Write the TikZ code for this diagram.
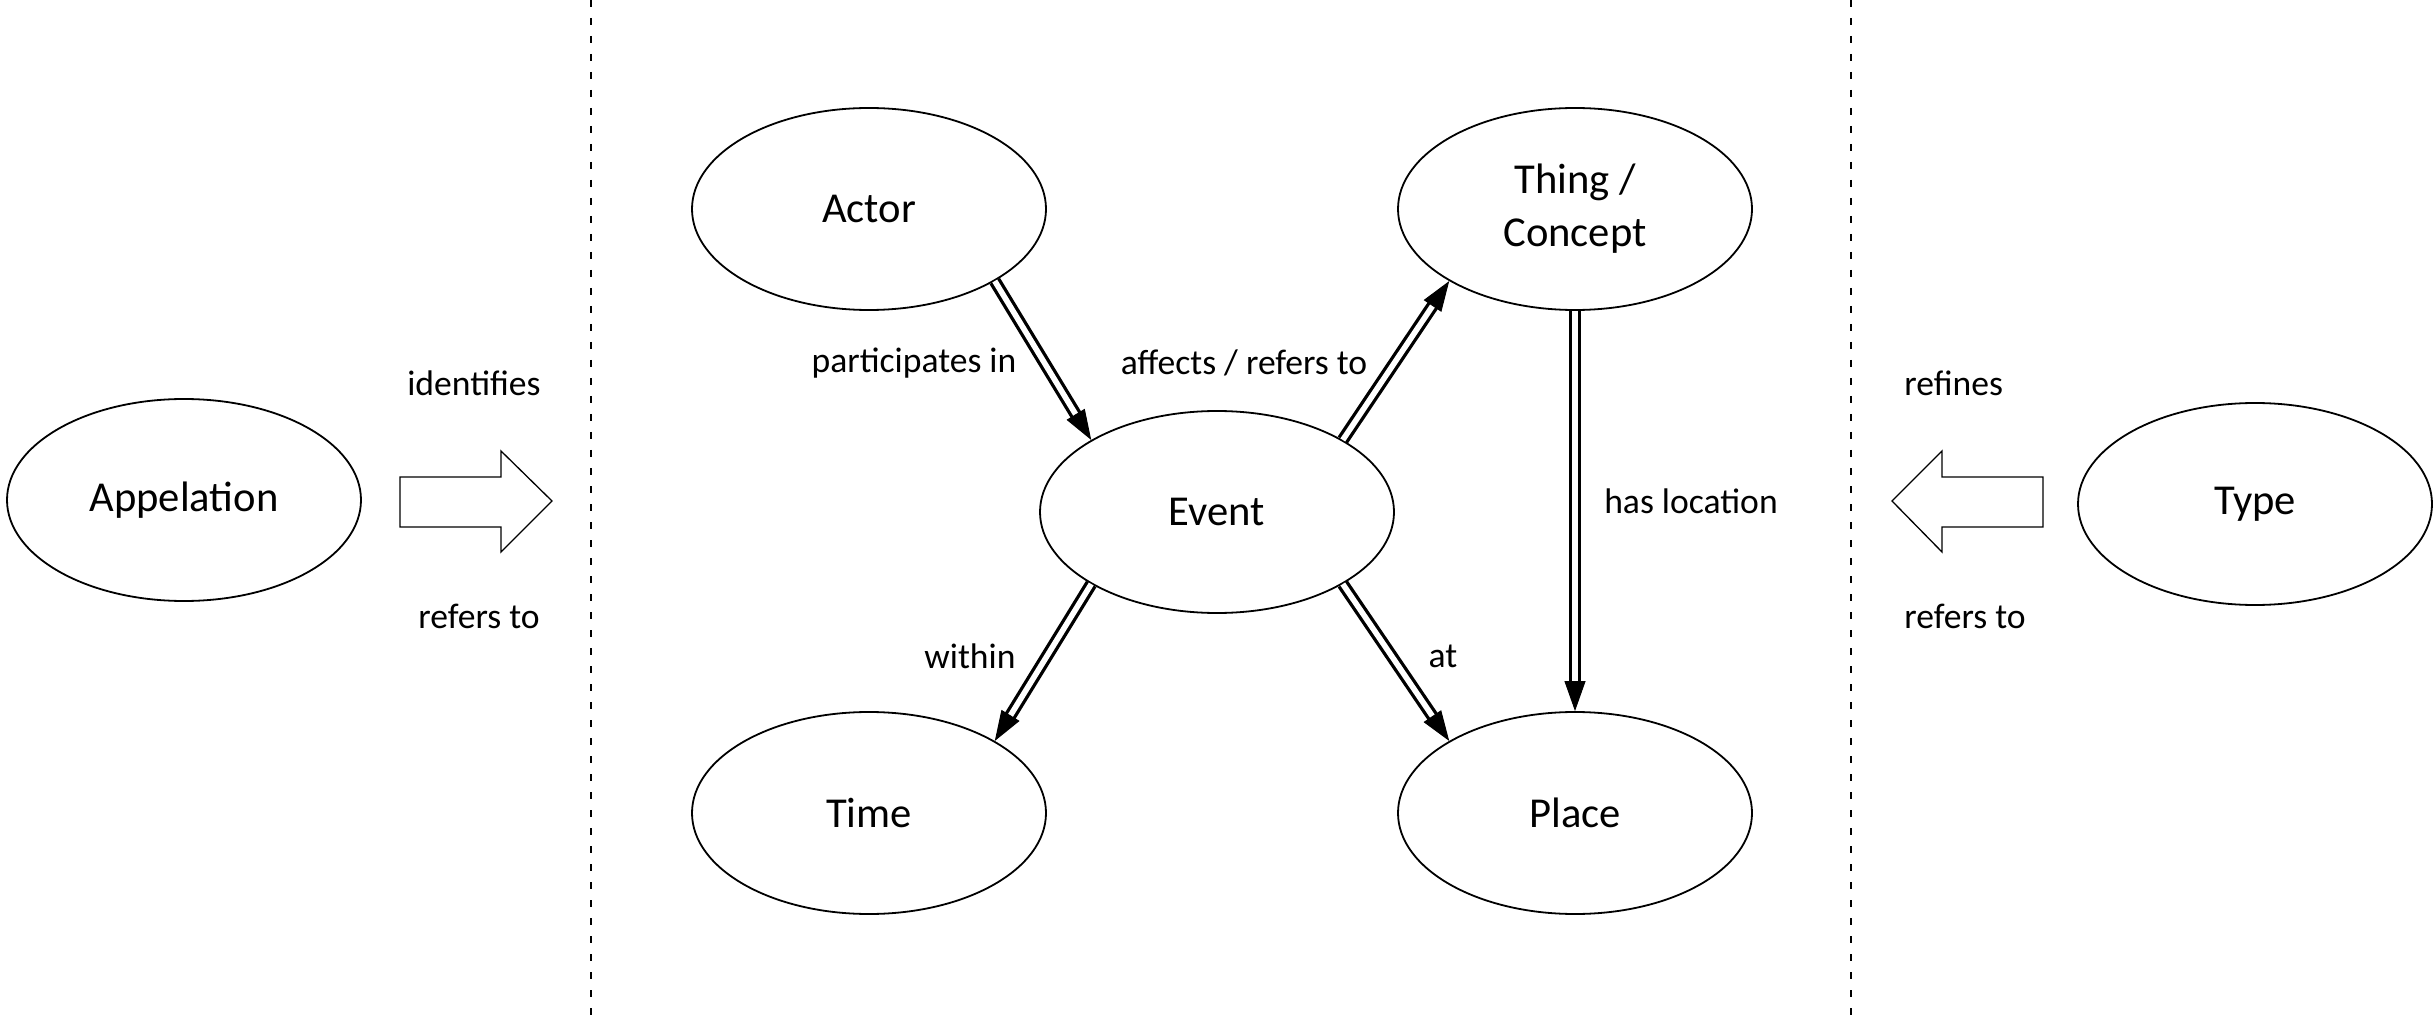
\documentclass[tikz,border=0pt]{standalone}
\usepackage{fontspec}
\setmainfont{Carlito}
\usetikzlibrary{arrows.meta,calc,shapes.geometric}
\begin{document}
\begin{tikzpicture}[x=0.5pt,y=-0.5pt,
  ent/.style={draw, ellipse, line width=0.9pt, minimum width=177pt, minimum height=101pt, inner sep=0pt, font=\fontsize{21.3}{26.4}\selectfont, align=center},
  lbl/.style={font=\fontsize{17.8}{21}\selectfont, inner sep=0pt},
  rel/.style={double, line width=1.65pt, double distance=2.8pt, shorten >=10pt},
  head/.style={-{Triangle[length=15pt,width=10.5pt]}, line width=0.5pt},
  blk/.style={draw, line width=0.65pt, line join=miter},
  sep/.style={line width=1pt, dash pattern=on 3.5pt off 5.5pt}]
\useasboundingbox (0,0) rectangle (2433,1016);

% separators
\draw[sep] (591,0) -- (591,1016);
\draw[sep] (1851,0) -- (1851,1016);

% entities
\node[ent] (app) at (184,500) {Appelation};
\node[ent] (actor) at (869,209) {Actor};
\node[ent] (thing) at (1575,209) {Thing /\\Concept};
\node[ent] (event) at (1217,512) {Event};
\node[ent] (time) at (869,813) {Time};
\node[ent] (place) at (1575,813) {Place};
\node[ent] (type) at (2255,504) {Type};

% relations
\draw[rel] (actor.south east) -- (event.north west);
\draw[head] ($(event.north west)!12pt!(actor.south east)$) -- (event.north west);
\draw[rel] (event.north east) -- (thing.south west);
\draw[head] ($(thing.south west)!12pt!(event.north east)$) -- (thing.south west);
\draw[rel] (thing.south) -- (place.north);
\draw[head] ($(place.north)!12pt!(thing.south)$) -- (place.north);
\draw[rel] (event.south west) -- (time.north east);
\draw[head] ($(time.north east)!12pt!(event.south west)$) -- (time.north east);
\draw[rel] (event.south east) -- (place.north west);
\draw[head] ($(place.north west)!12pt!(event.south east)$) -- (place.north west);

% block arrows
\draw[blk] (400,477) -- (501,477) -- (501,451) -- (552,501) -- (501,552) -- (501,527) -- (400,527) -- cycle;
\draw[blk] (2043,477) -- (1942,477) -- (1942,451) -- (1892,501) -- (1942,552) -- (1942,527) -- (2043,527) -- cycle;

% labels
\node[lbl, anchor=east] (lid) at (541,383) {identifies};
\node[lbl, anchor=east] (lrl) at (540,616) {refers to};
\node[lbl] (lpi) at (914,363) {participates in};
\node[lbl] (laf) at (1244,363) {affects / refers to};
\node[lbl] (lhl) at (1691,501) {has location};
\node[lbl] (lwi) at (970,656) {within};
\node[lbl] (lat) at (1443,656) {at};
\node[lbl, anchor=west] (lrf) at (1904,383) {refines};
\node[lbl, anchor=west] (lrr) at (1904,616) {refers to};
\end{tikzpicture}
\end{document}
